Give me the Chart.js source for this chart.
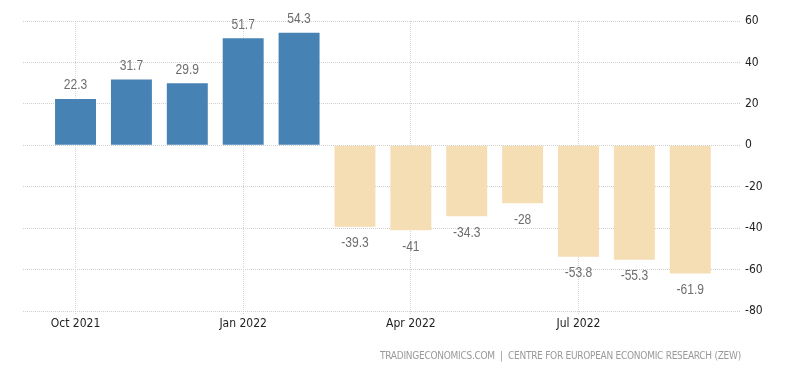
<!DOCTYPE html>
<html><head><meta charset="utf-8">
<script src="https://cdn.jsdelivr.net/npm/chart.js@4"></script>
<style>html,body{margin:0;padding:0;background:#fff}#wrap{width:800px;height:373px;position:relative}</style>
</head><body><div id="wrap"><canvas id="c" width="800" height="373"></canvas></div>
<script>
const categories = ['Oct 2021','Nov 2021','Dec 2021','Jan 2022','Feb 2022','Mar 2022','Apr 2022','May 2022','Jun 2022','Jul 2022','Aug 2022','Sep 2022'];
const values = [22.3, 31.7, 29.9, 51.7, 54.3, -39.3, -41, -34.3, -28, -53.8, -55.3, -61.9];
const xTickIndices = [0, 3, 6, 9];
const yTicks = [60, 40, 20, 0, -20, -40, -60, -80];
const sourceText = 'TRADINGECONOMICS.COM  |  CENTRE FOR EUROPEAN ECONOMIC RESEARCH (ZEW)';

const POS = '#4682b4', NEG = '#f5deb3';
const tickFont = {family: "'DejaVu Sans Condensed', 'DejaVu Sans', sans-serif", size: 12};

const labelPlugin = {
  id: 'valueLabels',
  afterDatasetsDraw(chart) {
    const ctx = chart.ctx;
    const meta = chart.getDatasetMeta(0);
    meta.data.forEach((el, i) => {
      const v = values[i];
      const y = v >= 0 ? el.y - 13.5 : el.y + 16.5;
      ctx.save();
      ctx.font = "14px 'Liberation Sans', Arial, sans-serif";
      ctx.fillStyle = '#6e6e6e';
      ctx.textAlign = 'center';
      ctx.textBaseline = 'middle';
      ctx.translate(el.x, y);
      ctx.scale(0.86, 1);
      ctx.fillText(String(v), 0, 0);
      ctx.restore();
    });
  }
};

const sourcePlugin = {
  id: 'source',
  afterDraw(chart) {
    const ctx = chart.ctx;
    ctx.save();
    ctx.font = "10px 'DejaVu Sans Condensed', 'DejaVu Sans', sans-serif";
    ctx.fillStyle = '#999';
    ctx.textBaseline = 'middle';
    ctx.textAlign = 'left';
    const nat = ctx.measureText(sourceText).width;
    const target = 361;
    const sp = (target - nat) / (sourceText.length - 1);
    ctx.letterSpacing = sp.toFixed(2) + 'px';
    ctx.fillText(sourceText, 741 - target, 356);
    ctx.restore();
  }
};

new Chart(document.getElementById('c'), {
  type: 'bar',
  data: {
    datasets: [{
      data: values.map((v, i) => ({x: i, y: v})),
      backgroundColor: values.map(v => v >= 0 ? POS : NEG),
      borderWidth: 0,
      barPercentage: 0.733,
      categoryPercentage: 1
    }]
  },
  options: {
    responsive: false,
    animation: false,
    layout: {padding: {left: 23, top: 21, right: 0, bottom: 0}},
    plugins: {legend: {display: false}, tooltip: {enabled: false}},
    scales: {
      x: {
        type: 'linear',
        offset: false,
        min: -0.94,
        max: 11.89,
        afterBuildTicks: s => { s.ticks = xTickIndices.map(v => ({value: v})); },
        afterFit: s => { s.height = 62; },
        ticks: {
          autoSkip: false, maxRotation: 0, padding: 3,
          font: tickFont, color: '#222',
          callback: v => categories[v]
        },
        grid: {offset: false, color: '#d6d6d6', tickColor: '#d6d6d6', tickLength: 3, drawTicks: true, tickBorderDash: [1, 1]},
        border: {display: false, dash: [1, 1]}
      },
      y: {
        position: 'right',
        min: -80, max: 60,
        afterBuildTicks: s => { s.ticks = yTicks.map(v => ({value: v})); },
        afterFit: s => { s.width = 60; },
        ticks: {padding: 5, font: tickFont, color: '#222'},
        grid: {color: '#cfcfcf', drawTicks: false},
        border: {display: false, dash: [1, 1]}
      }
    }
  },
  plugins: [labelPlugin, sourcePlugin]
});
</script></body></html>
